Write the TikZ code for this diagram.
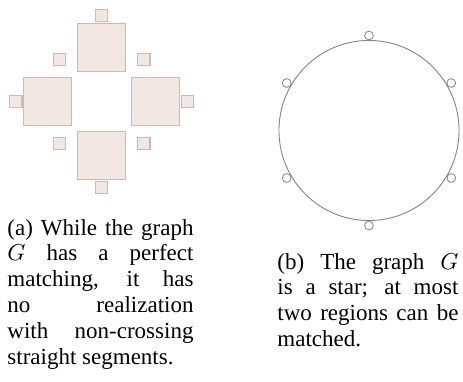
\documentclass[tikz,border=0pt]{standalone}
\usepackage{fontspec}
\setmainfont{Liberation Serif}
\usepackage{tikz}
\usetikzlibrary{positioning, calc}
\definecolor{regfill}{HTML}{F3E7E3}
\definecolor{regline}{HTML}{D2B8B2}
\definecolor{rimgray}{HTML}{858585}

\begin{document}
\begin{tikzpicture}[x=0.4348pt, y=-0.4348pt,
  region/.style={draw=regline, fill=regfill, line width=0.45pt, inner sep=0pt, minimum size=21pt},
  stub/.style={draw=regline, fill=regfill, line width=0.45pt, inner sep=0pt, minimum size=5.4pt},
  vertex/.style={draw=rimgray, fill=white, circle, line width=0.35pt, inner sep=0pt, minimum size=3.8pt},
  caption/.style={anchor=base west, inner sep=0pt, align=justify, font=\fontsize{10}{11.3}\selectfont}]
\useasboundingbox (0,0) rectangle (463,381);
% Regions of the graph G
\foreach \name/\dx/\dy in {top/0/-1, left/-1/0, right/1/0, bot/0/1} {
    \node[region] (big-\name) at ({101.6+54.2*\dx},{101.5+54.2*\dy}) {};
    \node[stub] (end-\name) at ({101.6+85.8*\dx},{101.5+85.8*\dy}) {};
}
% Small regions on the diagonals
\foreach \name/\dx/\dy in {nw/-1/-1, ne/1/-1, sw/-1/1, se/1/1} {
    \node[stub] (diag-\name) at ({101.6+42.2*\dx},{101.5+42.2*\dy}) {};
}
% Star
\node[draw=rimgray, circle, line width=0.4pt, inner sep=0pt, minimum size=78.3pt] (rim) at (369,130.5) {};
\foreach \i/\a in {1/90, 2/150, 3/210, 4/270, 5/330, 6/30} {
    \node[vertex] (v\i) at ($(rim.center)+(\a:95)$) {};
}
% Captions
\node[caption, text width=80.9pt] (capa) at (7,235)
    {(a) While the graph\linebreak $G$ has a perfect\linebreak matching, it has\linebreak no realization\linebreak with non-crossing\linebreak straight segments.};
\node[caption, text width=78.7pt] (capb) at (277,269)
    {(b) The graph $G$\linebreak is a star; at most\linebreak two regions can be\linebreak matched.};
\end{tikzpicture}
\end{document}
